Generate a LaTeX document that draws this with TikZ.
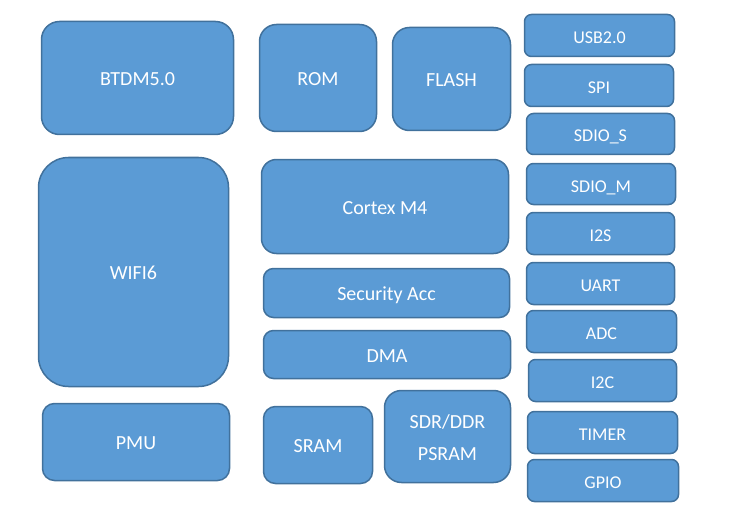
\documentclass[tikz,border=0pt]{standalone}
\usepackage{fontspec}
\setmainfont{Carlito}
\definecolor{boxfill}{HTML}{5B9BD5}
\definecolor{boxline}{HTML}{41719C}
\tikzset{
  blk/.style={draw=boxline, fill=boxfill, line width=1.5pt, text=white, inner sep=0pt, align=center,
    text height=15.5pt, text depth=0pt, font=\fontsize{20}{32}\selectfont},
  io/.style={blk, rounded corners=7pt, minimum height=42pt, text height=16pt, font=\fontsize{18}{22}\selectfont},
}
\begin{document}
\begin{tikzpicture}[x=1pt,y=-1pt]
\useasboundingbox (0,0) rectangle (732,519);
% left column
\node[blk, rounded corners=18pt, minimum width=192pt, minimum height=113pt] (btdm) at (137.5,78) {BTDM5.0};
\node[blk, rounded corners=30pt, minimum width=190pt, minimum height=229pt] (wifi) at (133.5,272) {WIFI6};
\node[blk, rounded corners=12pt, minimum width=187pt, minimum height=77pt] (pmu) at (136,442) {PMU};
% middle
\node[blk, rounded corners=17pt, minimum width=117pt, minimum height=107pt] (rom) at (318,78) {ROM};
\node[blk, rounded corners=17pt, minimum width=118pt, minimum height=103pt] (flash) at (451.5,79) {FLASH};
\node[blk, rounded corners=15pt, minimum width=247pt, minimum height=94pt] (cortex) at (385,206.5) {Cortex M4};
\node[blk, rounded corners=10pt, minimum width=246pt, minimum height=49pt] (sec) at (386.5,293) {Security Acc};
\node[blk, rounded corners=10pt, minimum width=247pt, minimum height=48pt] (dma) at (387,354.5) {DMA};
\node[blk, rounded corners=12pt, minimum width=109pt, minimum height=77pt] (sram) at (318,445) {SRAM};
\node[blk, rounded corners=17pt, minimum width=126pt, minimum height=92pt, text height=47.5pt] (psram) at (447.5,436.5) {SDR/DDR\\PSRAM};
% right column
\node[io, minimum width=150pt] (usb) at (599.5,35.5) {USB2.0};
\node[io, minimum width=149pt] (spi) at (599,85.5) {SPI};
\node[io, minimum width=148pt, minimum height=41pt] (sdios) at (600.5,134) {SDIO\_S};
\node[io, minimum width=149pt, minimum height=41pt] (sdiom) at (601,184) {SDIO\_M};
\node[io, minimum width=148pt] (itwos) at (600.5,233.5) {I2S};
\node[io, minimum width=148pt] (uart) at (600.5,283.5) {UART};
\node[io, minimum width=150pt] (adc) at (601.5,331.5) {ADC};
\node[io, minimum width=148pt] (itwoc) at (602.5,380.5) {I2C};
\node[io, minimum width=150pt] (timer) at (602.5,432.5) {TIMER};
\node[io, minimum width=151pt] (gpio) at (603,480.5) {GPIO};
\end{tikzpicture}
\end{document}
